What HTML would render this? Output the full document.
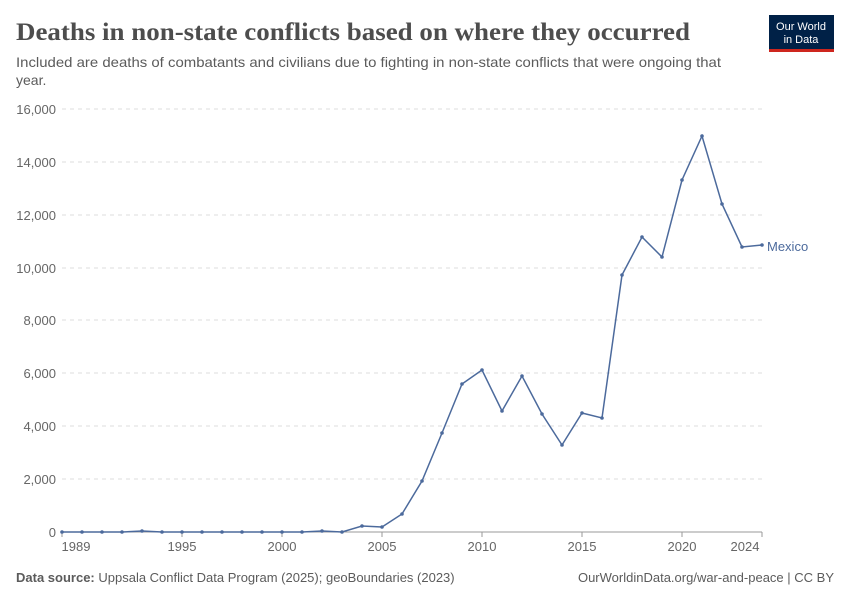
<!DOCTYPE html>
<html><head><meta charset="utf-8"><style>
body{margin:0;background:#fff;width:850px;height:600px;overflow:hidden;font-family:"Liberation Sans",sans-serif}
</style></head><body>
<svg width="850" height="600" xmlns="http://www.w3.org/2000/svg" font-family="Liberation Sans, sans-serif">
<text x="16" y="40" font-family="Liberation Serif, serif" font-size="25" font-weight="bold" fill="#4d4d4d" textLength="674" lengthAdjust="spacingAndGlyphs">Deaths in non-state conflicts based on where they occurred</text>
<text x="16" y="67" font-size="14" fill="#5b5b5b" textLength="705" lengthAdjust="spacingAndGlyphs">Included are deaths of combatants and civilians due to fighting in non-state conflicts that were ongoing that</text>
<text x="16" y="85" font-size="14" fill="#5b5b5b">year.</text>
<rect x="769" y="15" width="65" height="36" fill="#002147"/>
<rect x="769" y="49" width="65" height="3" fill="#ce261e"/>
<text x="801" y="30" font-size="11" fill="#fff" text-anchor="middle">Our World</text>
<text x="801" y="43" font-size="11" fill="#fff" text-anchor="middle">in Data</text>
<g stroke="#ddd" stroke-dasharray="4,4" stroke-width="1">
<line x1="62" x2="762" y1="109" y2="109"/><line x1="62" x2="762" y1="162" y2="162"/><line x1="62" x2="762" y1="215" y2="215"/><line x1="62" x2="762" y1="268" y2="268"/><line x1="62" x2="762" y1="320" y2="320"/><line x1="62" x2="762" y1="373" y2="373"/><line x1="62" x2="762" y1="426" y2="426"/><line x1="62" x2="762" y1="479" y2="479"/>
</g>
<line x1="62" x2="762" y1="532" y2="532" stroke="#999"/>
<g font-size="13" fill="#666" text-anchor="end">
<text x="56" y="114">16,000</text><text x="56" y="167">14,000</text><text x="56" y="220">12,000</text><text x="56" y="273">10,000</text><text x="56" y="325">8,000</text><text x="56" y="378">6,000</text><text x="56" y="431">4,000</text><text x="56" y="484">2,000</text><text x="56" y="537">0</text>
</g>
<g font-size="13" fill="#666" text-anchor="middle">
<text x="76" y="551">1989</text><text x="182" y="551">1995</text><text x="282" y="551">2000</text><text x="382" y="551">2005</text><text x="482" y="551">2010</text><text x="582" y="551">2015</text><text x="682" y="551">2020</text><text x="745" y="551">2024</text>
</g>
<g stroke="#999"><line x1="62" x2="62" y1="532" y2="537"/><line x1="182" x2="182" y1="532" y2="537"/><line x1="282" x2="282" y1="532" y2="537"/><line x1="382" x2="382" y1="532" y2="537"/><line x1="482" x2="482" y1="532" y2="537"/><line x1="582" x2="582" y1="532" y2="537"/><line x1="682" x2="682" y1="532" y2="537"/><line x1="762" x2="762" y1="532" y2="537"/></g>
<polyline fill="none" stroke="#4c6a9c" stroke-width="1.5" points="62,532 82,532 102,532 122,532 142,531 162,532 182,532 202,532 222,532 242,532 262,532 282,532 302,532 322,531 342,532 362,526 382,527 402,514 422,481 442,433 462,384 482,370 502,411 522,376 542,414 562,445 582,413 602,418 622,275 642,237 662,257 682,180 702,136 722,204 742,247 762,245"/>
<g fill="#4c6a9c">
<circle cx="62" cy="532" r="1.8"/><circle cx="82" cy="532" r="1.8"/><circle cx="102" cy="532" r="1.8"/><circle cx="122" cy="532" r="1.8"/><circle cx="142" cy="531" r="1.8"/><circle cx="162" cy="532" r="1.8"/><circle cx="182" cy="532" r="1.8"/><circle cx="202" cy="532" r="1.8"/><circle cx="222" cy="532" r="1.8"/><circle cx="242" cy="532" r="1.8"/><circle cx="262" cy="532" r="1.8"/><circle cx="282" cy="532" r="1.8"/><circle cx="302" cy="532" r="1.8"/><circle cx="322" cy="531" r="1.8"/><circle cx="342" cy="532" r="1.8"/><circle cx="362" cy="526" r="1.8"/><circle cx="382" cy="527" r="1.8"/><circle cx="402" cy="514" r="1.8"/><circle cx="422" cy="481" r="1.8"/><circle cx="442" cy="433" r="1.8"/><circle cx="462" cy="384" r="1.8"/><circle cx="482" cy="370" r="1.8"/><circle cx="502" cy="411" r="1.8"/><circle cx="522" cy="376" r="1.8"/><circle cx="542" cy="414" r="1.8"/><circle cx="562" cy="445" r="1.8"/><circle cx="582" cy="413" r="1.8"/><circle cx="602" cy="418" r="1.8"/><circle cx="622" cy="275" r="1.8"/><circle cx="642" cy="237" r="1.8"/><circle cx="662" cy="257" r="1.8"/><circle cx="682" cy="180" r="1.8"/><circle cx="702" cy="136" r="1.8"/><circle cx="722" cy="204" r="1.8"/><circle cx="742" cy="247" r="1.8"/><circle cx="762" cy="245" r="1.8"/>
</g>
<text x="767" y="251" font-size="13" fill="#4c6a9c">Mexico</text>
<text x="16" y="582" font-size="13" fill="#5b5b5b"><tspan font-weight="bold">Data source:</tspan> Uppsala Conflict Data Program (2025); geoBoundaries (2023)</text>
<text x="834" y="582" font-size="13" fill="#5b5b5b" text-anchor="end">OurWorldinData.org/war-and-peace | CC BY</text>
</svg>
</body></html>
